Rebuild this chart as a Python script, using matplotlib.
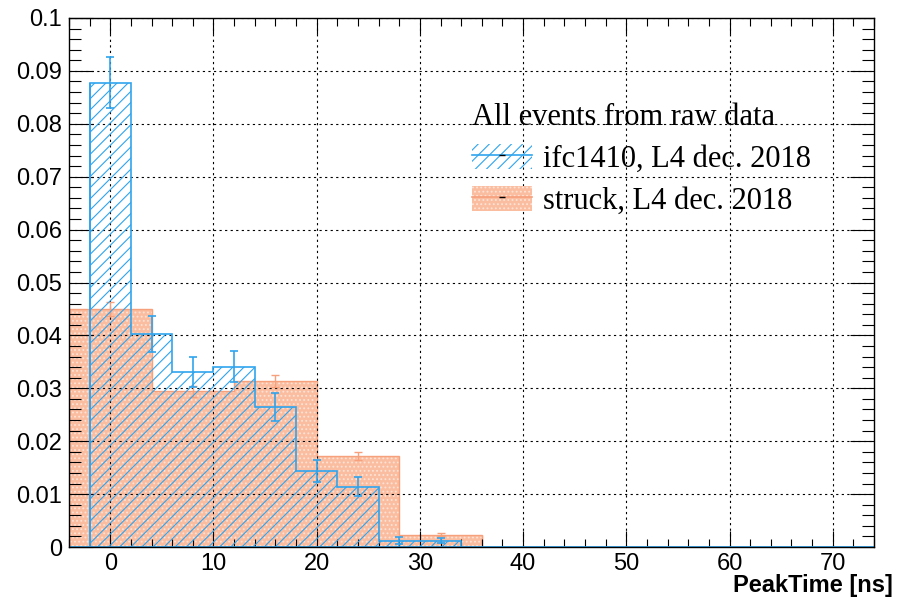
import matplotlib
matplotlib.use("Agg")
import matplotlib.pyplot as plt
import numpy as np
from matplotlib.patches import Patch
from matplotlib.lines import Line2D
from matplotlib.ticker import MultipleLocator, FuncFormatter
from matplotlib.legend_handler import HandlerTuple

# ---- data ----
blue_edges = [-2, 2, 6, 10, 14, 18, 22, 26, 30, 34]
blue_values = [0.0878, 0.0402, 0.0331, 0.0341, 0.0265, 0.0144, 0.0114, 0.0012, 0.0012]
blue_errors = [0.0048, 0.0034, 0.0029, 0.0030, 0.0026, 0.0021, 0.0018, 0.0006, 0.0005]

orange_edges = [-4, 4, 12, 20, 28, 36]
orange_values = [0.0450, 0.0294, 0.0314, 0.0172, 0.0023]
orange_errors = [0.0014, 0.0011, 0.0011, 0.0008, 0.0003]

x_range = [-4, 74]
y_range = [0, 0.1]
x_label = "PeakTime [ns]"
legend_title = "All events from raw data"
label_blue = "ifc1410, L4 dec. 2018"
label_orange = "struck, L4 dec. 2018"

BLUE = "#2fa4ee"
ORANGE = "#f7a07c"
ORANGE_FILL = "#fbbda0"
ORANGE_HATCH = "#fde3d6"

plt.rcParams["hatch.linewidth"] = 0.8
plt.rcParams["font.family"] = ["Liberation Sans", "DejaVu Sans"]

fig = plt.figure(figsize=(9.06, 6.02), dpi=100)
ax = fig.add_axes([69/906, 1-547/602, (874-69)/906, (547-18)/602])

# orange histogram (filled)
oe = np.array(orange_edges, float)
ov = np.array(orange_values, float)
ax.bar(oe[:-1], ov, width=np.diff(oe), align="edge", color=ORANGE_FILL,
       edgecolor=ORANGE_HATCH, hatch="....", linewidth=0, zorder=1)
ax.stairs(ov, oe, color=ORANGE, linewidth=1.0, zorder=2, baseline=0)
ax.vlines([oe[0], oe[-1]], 0, [ov[0], ov[-1]], color=ORANGE, lw=1.0, zorder=2)
oc = (oe[:-1] + oe[1:]) / 2
ax.errorbar(oc, ov, yerr=orange_errors, fmt="none", ecolor=ORANGE, elinewidth=1.0,
            capsize=3, capthick=1.0, zorder=3)

# blue histogram (hatched)
be = np.array(blue_edges, float)
bv = np.array(blue_values, float)
ax.bar(be[:-1], bv, width=np.diff(be), align="edge", color="none",
       edgecolor=BLUE, hatch="///", linewidth=0, zorder=4)
ax.stairs(bv, be, color=BLUE, linewidth=1.2, zorder=5, baseline=0)
ax.vlines([be[0]], 0, [bv[0]], color=BLUE, lw=1.2, zorder=5)
ax.axhline(0, color=BLUE, lw=2.0, zorder=5)
bc = (be[:-1] + be[1:]) / 2
ax.errorbar(bc, bv, yerr=blue_errors, fmt="none", ecolor=BLUE, elinewidth=1.2,
            capsize=3, capthick=1.2, zorder=6)

ax.set_xlim(*x_range)
ax.set_ylim(*y_range)

ax.xaxis.set_major_locator(MultipleLocator(10))
ax.xaxis.set_minor_locator(MultipleLocator(2))
ax.yaxis.set_major_locator(MultipleLocator(0.01))
ax.yaxis.set_minor_locator(MultipleLocator(0.002))
ax.yaxis.set_major_formatter(FuncFormatter(lambda v, p: f"{v:g}" if abs(v) > 1e-12 else "0"))

ax.tick_params(axis="both", which="both", direction="in", top=True, right=True,
               labelsize=17, width=0.8, colors="black")
ax.tick_params(axis="x", which="major", length=11.5, pad=4)
ax.tick_params(axis="x", which="minor", length=5.8)
ax.tick_params(axis="y", which="major", length=17, pad=5)
ax.tick_params(axis="y", which="minor", length=8.6)

ax.grid(True, which="major", color="black", linestyle=(0, (2, 3)), linewidth=0.8, zorder=7)
ax.set_axisbelow(False)
for s in ax.spines.values():
    s.set_linewidth(1.0)
    s.set_zorder(8)

fig.text(893/906, 5/602, x_label, ha="right", va="bottom", fontsize=17, fontweight="bold")

# legend
h_blue = (Patch(facecolor="none", edgecolor=BLUE, hatch="///", linewidth=0),
          Line2D([], [], color=BLUE, lw=1.2),
          Line2D([], [], color="black", lw=0, marker="_", markersize=4))
h_orange = (Patch(facecolor=ORANGE_FILL, edgecolor=ORANGE_HATCH, hatch="....", linewidth=0),
            Line2D([], [], color=ORANGE, lw=1.2),
            Line2D([], [], color="black", lw=0, marker="_", markersize=4))
leg = ax.legend([h_blue, h_orange], [label_blue, label_orange],
                handler_map={tuple: HandlerTuple(ndivide=1, pad=0)},
                title=legend_title, frameon=False, alignment="left", numpoints=1,
                loc="upper left", bbox_to_anchor=(472/906, 1-103/602),
                bbox_transform=fig.transFigure,
                prop={"family": "Liberation Serif", "size": 22},
                title_fontproperties={"family": "Liberation Serif", "size": 22},
                handlelength=1.95, handleheight=0.92, handletextpad=0.38,
                labelspacing=0.38, borderaxespad=0, borderpad=0)
leg.set_zorder(9)

fig.savefig("out.png", dpi=100)
